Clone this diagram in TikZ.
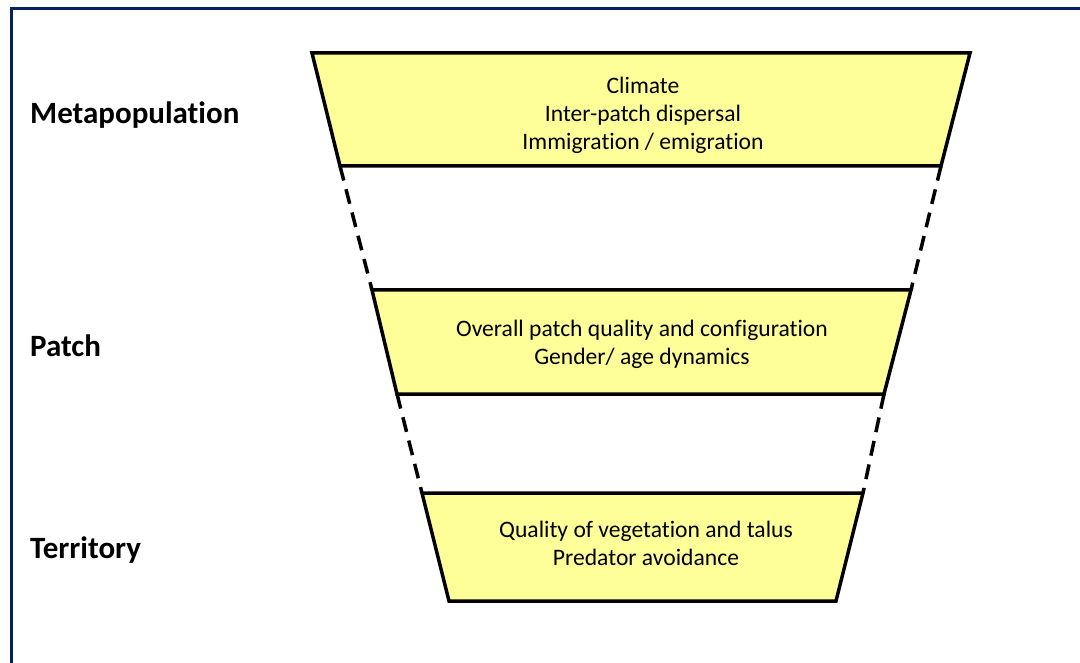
\documentclass[tikz,border=0pt]{standalone}
\usepackage{fontspec}
\setmainfont{Carlito}[Ligatures=NoCommon]
\usetikzlibrary{positioning}
\definecolor{framenavy}{RGB}{0,32,96}
\definecolor{boxyellow}{RGB}{255,255,153}
\tikzstyle{level} = [draw, line width=3.5pt, line join=miter, fill=boxyellow]
\tikzstyle{level text} = [align=center, inner sep=0pt, font=\fontsize{23.6}{28}\selectfont]
\tikzstyle{scale label} = [anchor=base west, inner sep=0pt, font=\fontsize{31}{36}\selectfont\bfseries]
\tikzstyle{link} = [draw, line width=3.5pt, dash pattern=on 15pt off 9pt]

\begin{document}
\begin{tikzpicture}[x=1pt, y=1pt]
	\useasboundingbox (0,0) rectangle (1080,-663);
	\clip (0,0) rectangle (1080,-663);
	\draw [framenavy, line width=3pt] (11,-9) rectangle (1100,-700);
	% Place corners
	\coordinate (meta tl) at (312,-53);   \coordinate (meta tr) at (970,-53);
	\coordinate (meta bl) at (340,-166);  \coordinate (meta br) at (941,-166);
	\coordinate (patch tl) at (372,-290); \coordinate (patch tr) at (911,-290);
	\coordinate (patch bl) at (397,-394); \coordinate (patch br) at (884,-394);
	\coordinate (terr tl) at (422,-493);  \coordinate (terr tr) at (863,-493);
	\coordinate (terr bl) at (449,-601);  \coordinate (terr br) at (836,-601);
	% Draw boxes
	\path [level] (meta tl) -- (meta tr) -- (meta br) -- (meta bl) -- cycle;
	\path [level] (patch tl) -- (patch tr) -- (patch br) -- (patch bl) -- cycle;
	\path [level] (terr tl) -- (terr tr) -- (terr br) -- (terr bl) -- cycle;
	% Place nodes
	\node [level text] (meta) at (643,-115)
		{Climate\\Inter-patch dispersal\\Immigration / emigration};
	\node [level text] (patch) at (642,-344)
		{Overall patch quality and configuration\\Gender/ age dynamics};
	\node [level text] (territory) at (646,-543)
		{Quality of vegetation and talus\\Predator avoidance};
	\node [scale label] (metalabel) at (30,-124) {Metapopulation};
	\node [scale label] (patchlabel) at (30,-356) {Patch};
	\node [scale label] (territorylabel) at (30,-558) {Territory};
	% Draw edges
	\path [link] (meta bl) -- (patch tl);
	\path [link] (meta br) -- (patch tr);
	\path [link] (patch bl) -- (terr tl);
	\path [link] (patch br) -- (terr tr);
\end{tikzpicture}
\end{document}
